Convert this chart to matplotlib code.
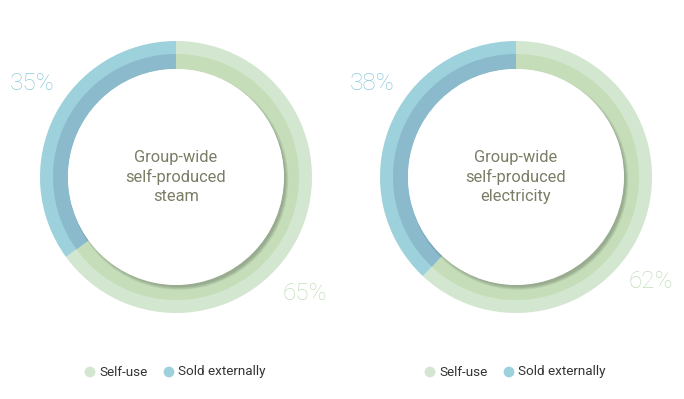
import matplotlib
matplotlib.use("Agg")
import matplotlib.pyplot as plt
from matplotlib.patches import Wedge, Circle
import numpy as np

titles = ["Group-wide\nself-produced\nsteam", "Group-wide\nself-produced\nelectricity"]
categories = ["Self-use", "Sold externally"]
self_use = [65, 62]
sold_ext = [35, 38]

light_cols = ["#d3e6cf", "#9dd1dc"]
dark_cols = ["#c5deb9", "#8abacc"]
label_cols = ["#c2ddba", "#8ccad8"]
text_col = "#7b7c66"

W, H = 684, 399
fig = plt.figure(figsize=(6.84, 3.99), dpi=100)
ax = fig.add_axes([0, 0, 1, 1])
ax.set_xlim(0, W)
ax.set_ylim(H, 0)
ax.set_aspect("equal")
ax.axis("off")

centers = [(176, 177), (516, 177)]
R_out, R_mid, R_in = 136, 123, 108

for i, (cx, cy) in enumerate(centers):
    vals = [self_use[i], sold_ext[i]]
    total = sum(vals)
    start = -90.0
    for j, v in enumerate(vals):
        ext = 360.0 * v / total
        ax.add_patch(Wedge((cx, cy), R_out, start, start + ext, width=R_out - R_in,
                           facecolor=light_cols[j], edgecolor="none"))
        ax.add_patch(Wedge((cx, cy), R_mid, start, start + ext, width=R_mid - R_in,
                           facecolor=dark_cols[j], edgecolor="none"))
        start += ext
    for k in range(6):
        ax.add_patch(Circle((cx + 2.5, cy + 3), R_in - 1 + k * 0.6, facecolor="#000000",
                            alpha=0.04, edgecolor="none"))
    ax.add_patch(Circle((cx, cy), R_in, facecolor="white", edgecolor="none"))
    ax.text(cx, cy, titles[i], ha="center", va="center", fontsize=11.8, color=text_col,
            family="Roboto", linespacing=1.3)

pct_kw = dict(ha="center", va="center", fontsize=17.5, family="Roboto", fontweight="light")
ax.text(32, 84, f"{sold_ext[0]}%", color=label_cols[1], **pct_kw)
ax.text(305, 294, f"{self_use[0]}%", color=label_cols[0], **pct_kw)
ax.text(372, 84, f"{sold_ext[1]}%", color=label_cols[1], **pct_kw)
ax.text(651, 282, f"{self_use[1]}%", color=label_cols[0], **pct_kw)

for lx in [90, 430]:
    ax.scatter([lx], [372], s=60, color=light_cols[0], edgecolors="none")
    ax.text(lx + 9, 372, categories[0], ha="left", va="center", fontsize=9.7, color="#333333",
            family="Roboto")
    ax.scatter([lx + 79], [372], s=60, color=light_cols[1], edgecolors="none")
    ax.text(lx + 88, 372, categories[1], ha="left", va="center", fontsize=9.7, color="#333333",
            family="Roboto")

fig.savefig("out.png", dpi=100)
